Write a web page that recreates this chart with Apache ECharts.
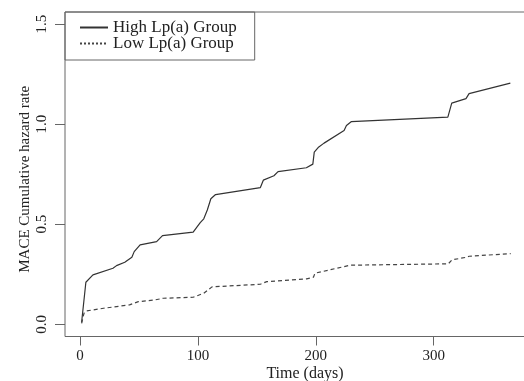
<!DOCTYPE html>
<html>
<head>
<meta charset="utf-8">
<script src="https://cdn.jsdelivr.net/npm/echarts/dist/echarts.min.js"></script>
<style>
  html, body { margin: 0; padding: 0; background: #fff; }
  #chart { width: 524px; height: 381px; }
</style>
</head>
<body>
<div id="chart"></div>
<script>
// cumulative hazard
const highDays = [1.4, 5, 11, 28, 31, 38, 44, 46, 51, 65, 70, 96, 102, 105, 108, 111, 115, 153, 155.5, 164.5, 168, 192, 197.5, 198.7, 202, 207, 224, 226, 230, 312, 315.3, 327.4, 330, 365];
const highRate = [0.01, 0.21, 0.247, 0.28, 0.293, 0.31, 0.335, 0.363, 0.397, 0.413, 0.443, 0.46, 0.508, 0.527, 0.571, 0.627, 0.648, 0.683, 0.72, 0.742, 0.763, 0.782, 0.8, 0.86, 0.883, 0.905, 0.968, 0.993, 1.012, 1.035, 1.105, 1.127, 1.152, 1.205];

const lowDays = [1.4, 3.4, 5.7, 20, 42, 49.5, 63.6, 70.7, 96, 105, 112, 153, 158.4, 192.3, 198, 199.3, 229, 312.4, 315.5, 328, 330, 365.3];
const lowRate = [0.005, 0.055, 0.067, 0.08, 0.097, 0.113, 0.122, 0.13, 0.135, 0.155, 0.187, 0.2, 0.213, 0.227, 0.235, 0.255, 0.295, 0.302, 0.322, 0.335, 0.34, 0.353];

const xTicks = [0, 100, 200, 300];
const yTicks = [0, 0.5, 1.0, 1.5];

const seriesNames = ['High Lp(a) Group', 'Low Lp(a) Group'];

const font = 'Liberation Serif';
const axisGray = '#666';

const chart = echarts.init(document.getElementById('chart'));

const option = {
  animation: false,
  backgroundColor: '#fff',
  grid: {
    left: 65,
    top: 12,
    right: -21,
    bottom: 44.5,
    show: true,
    borderColor: axisGray,
    borderWidth: 1,
    containLabel: false,
    outerBoundsMode: 'none',
  },
  legend: {
    orient: 'vertical',
    left: 65,
    top: 12,
    padding: [7, 18, 8, 14],
    itemGap: -1,
    itemWidth: 28,
    itemHeight: 14,
    borderColor: axisGray,
    borderWidth: 1,
    itemStyle: { opacity: 0 },
    textStyle: {
      fontFamily: font,
      fontSize: 17,
      lineHeight: 16,
      color: '#222',
    },
    data: [
      { name: seriesNames[0] },
      { name: seriesNames[1], lineStyle: { type: [2, 2] } },
    ],
  },
  xAxis: {
    type: 'value',
    min: -12.7,
    max: 394.4,
    name: 'Time (days)',
    nameLocation: 'middle',
    nameGap: 29,
    nameMoveOverlap: false,
    nameTextStyle: { fontFamily: font, fontSize: 16, color: '#222' },
    axisLine: { show: false, onZero: false },
    splitLine: { show: false },
    axisTick: {
      show: true,
      inside: false,
      length: 9,
      customValues: xTicks,
      lineStyle: { color: axisGray },
    },
    axisLabel: {
      customValues: xTicks,
      margin: 12,
      fontFamily: font,
      fontSize: 15,
      color: '#222',
    },
  },
  yAxis: {
    type: 'value',
    min: -0.061,
    max: 1.56,
    name: 'MACE Cumulative hazard rate',
    nameLocation: 'middle',
    nameGap: 32,
    nameMoveOverlap: false,
    nameTextStyle: { fontFamily: font, fontSize: 15, color: '#222', padding: [0, 10, 0, 0] },
    axisLine: { show: false, onZero: false },
    splitLine: { show: false },
    axisTick: {
      show: true,
      inside: false,
      length: 10,
      customValues: yTicks,
      lineStyle: { color: axisGray },
    },
    axisLabel: {
      customValues: yTicks,
      rotate: 90,
      margin: 15,
      fontFamily: font,
      fontSize: 15,
      color: '#222',
      formatter: v => v.toFixed(1),
    },
  },
  series: [
    {
      name: seriesNames[0],
      type: 'line',
      symbol: 'none',
      data: highDays.map((d, i) => [d, highRate[i]]),
      lineStyle: { color: '#333', width: 1.2 },
      itemStyle: { color: '#333' },
    },
    {
      name: seriesNames[1],
      type: 'line',
      symbol: 'none',
      data: lowDays.map((d, i) => [d, lowRate[i]]),
      lineStyle: { color: '#444', width: 1.2, type: [4, 3] },
      itemStyle: { color: '#444' },
    },
  ],
};

chart.setOption(option);
</script>
</body>
</html>
